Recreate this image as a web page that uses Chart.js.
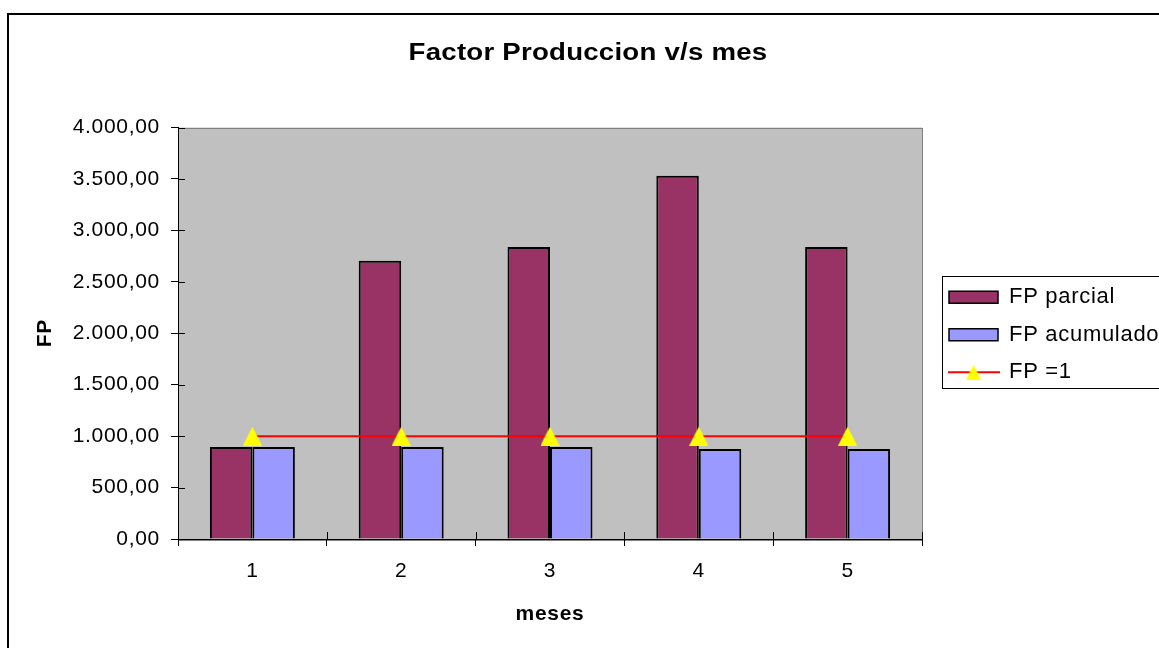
<!DOCTYPE html>
<html>
<head>
<meta charset="utf-8">
<title>Factor Produccion v/s mes</title>
<script src="https://cdn.jsdelivr.net/npm/chart.js@4.4.1/dist/chart.umd.min.js"></script>
<style>
  html, body { margin: 0; padding: 0; background: #fff; overflow: hidden; width: 1159px; height: 648px; }
  canvas { position: absolute; left: 0; top: 0; }
</style>
</head>
<body>
<canvas id="grafico" width="1180" height="665"></canvas>
<script>
// ---- data ----
const meses = ['1', '2', '3', '4', '5'];
const fpParcial = [895, 2705, 2838, 3532, 2838];
const fpAcumulado = [895, 895, 894, 876, 876];
const fpUno = [1000, 1000, 1000, 1000, 1000];
const nombresSeries = ['FP parcial', 'FP acumulado', 'FP =1'];
const yMin = 0;
const yMax = 4000;
const yPaso = 500;
const tituloGrafico = 'Factor Produccion v/s mes';
const tituloEjeX = 'meses';
const tituloEjeY = 'FP';

// ---- styling ----
const FAMILIA = "'Liberation Sans', Arial, Helvetica, sans-serif";
const ESPACIADO_TEXTO = '0.7px';
const ESPACIADO_TITULO = '0.2px';
const ESCALA_TITULO = 1.2;
const DESPLAZAMIENTO_TITULO = 12;
const ANCHO_LEYENDA = 230;

// 4000 -> "4.000,00"
function formatoNumero(v) {
  const partes = Number(v).toFixed(2).split('.');
  return partes[0].replace(/\B(?=(\d{3})+(?!\d))/g, '.') + ',' + partes[1];
}

// yellow triangle marker
function imagenTriangulo(w, h) {
  const c = document.createElement('canvas');
  c.width = w; c.height = h;
  const g = c.getContext('2d');
  g.fillStyle = '#FFFF00';
  g.beginPath();
  g.moveTo(w / 2, 0);
  g.lineTo(w, h);
  g.lineTo(0, h);
  g.closePath();
  g.fill();
  return c;
}

// legend swatch: red line with the triangle marker on it
function imagenLineaLeyenda() {
  const c = document.createElement('canvas');
  c.width = 52; c.height = 16;
  const g = c.getContext('2d');
  g.fillStyle = '#FF0000';
  g.fillRect(0, 7, 52, 2);
  g.drawImage(imagenTriangulo(15, 15), 18.5, 0.5);
  return c;
}

const marcador = imagenTriangulo(19, 19);
const marcadorLeyenda = imagenLineaLeyenda();

const marcoPlugin = {
  id: 'marco',
  beforeLayout(chart) {
    chart.ctx.letterSpacing = ESPACIADO_TEXTO;
    const tb = chart.titleBlock;
    if (tb && !tb.__espaciado) {
      tb.__espaciado = true;
      tb._layers = () => [{
        z: 0,
        draw(area) {
          const g = chart.ctx;
          const cx = (tb.left + tb.right) / 2;
          g.save();
          g.letterSpacing = ESPACIADO_TITULO;
          g.translate(cx + DESPLAZAMIENTO_TITULO, 0);
          g.scale(ESCALA_TITULO, 1);
          g.translate(-cx, 0);
          tb.draw(area);
          g.restore();
        }
      }];
    }
    const lg = chart.legend;
    if (lg && !lg.__fijo) {
      lg.__fijo = true;
      const ajusteOriginal = lg.fit;
      lg.fit = function () {
        ajusteOriginal.call(this);
        this.width = ANCHO_LEYENDA;
      };
    }
  },
  afterLayout(chart) {
    const lg = chart.legend;
    lg.left += 11.5; lg.right += 11.5;
    lg.top += 1.5; lg.bottom += 1.5;
  },
  beforeDraw(chart) {
    const g = chart.ctx;
    const a = chart.chartArea;
    g.save();
    g.letterSpacing = '0px';
    g.fillStyle = '#FFFFFF';
    g.fillRect(0, 0, chart.width, chart.height);
    // outer chart border
    g.strokeStyle = '#000000';
    g.lineWidth = 2;
    g.strokeRect(8, 14, chart.width + 40, chart.height + 40);
    // plot area
    g.fillStyle = '#C0C0C0';
    g.fillRect(a.left, a.top, a.width, a.height);
    g.strokeStyle = '#808080';
    g.lineWidth = 1;
    g.strokeRect(Math.round(a.left) + 0.5, Math.round(a.top) + 0.5, Math.round(a.width), Math.round(a.height));
    // legend frame
    const medio = (a.top + a.bottom) / 2;
    const top = Math.round(medio - 57) + 0.5;
    g.strokeStyle = '#000000';
    g.strokeRect(Math.round(a.right) + 20.5, top, 400, 112);
    g.restore();
    g.letterSpacing = ESPACIADO_TEXTO;
  },
  afterDatasetsDraw(chart) {
    // inner half of the crossing tick marks
    const g = chart.ctx;
    const a = chart.chartArea;
    const xs = chart.scales.x;
    const ys = chart.scales.y;
    g.save();
    g.strokeStyle = '#000000';
    g.lineWidth = 1;
    g.beginPath();
    ys.ticks.forEach(t => {
      const y = Math.round(ys.getPixelForValue(t.value)) + 0.5;
      g.moveTo(a.left, y);
      g.lineTo(a.left + 7, y);
    });
    for (let i = 0; i <= meses.length; i++) {
      const x = Math.round(xs.getPixelForValue(i - 0.5)) + 0.5;
      g.moveTo(x, a.bottom - 7);
      g.lineTo(x, a.bottom);
    }
    g.stroke();
    g.restore();
  }
};

Chart.defaults.font.family = FAMILIA;
Chart.defaults.color = '#000000';

const generarEtiquetas = Chart.defaults.plugins.legend.labels.generateLabels;

new Chart(document.getElementById('grafico'), {
  type: 'bar',
  data: {
    labels: meses,
    datasets: [
      {
        label: nombresSeries[0],
        data: fpParcial,
        backgroundColor: '#993366',
        borderColor: '#000000',
        borderWidth: 2,
        categoryPercentage: 0.571,
        barPercentage: 1,
        order: 1
      },
      {
        label: nombresSeries[1],
        data: fpAcumulado,
        backgroundColor: '#9999FF',
        borderColor: '#000000',
        borderWidth: 2,
        categoryPercentage: 0.571,
        barPercentage: 1,
        order: 1
      },
      {
        type: 'line',
        label: nombresSeries[2],
        data: fpUno,
        borderColor: '#FF0000',
        backgroundColor: '#FFFF00',
        borderWidth: 2,
        tension: 0,
        fill: false,
        pointStyle: marcador,
        pointRadius: 9,
        order: 0
      }
    ]
  },
  options: {
    responsive: false,
    devicePixelRatio: 1,
    animation: false,
    events: [],
    layout: { padding: { left: 0, top: 0, bottom: 0, right: 1180 - 922 - ANCHO_LEYENDA } },
    plugins: {
      tooltip: { enabled: false },
      title: {
        display: true,
        text: tituloGrafico,
        color: '#000000',
        font: { family: FAMILIA, size: 23, weight: 'bold', lineHeight: 1.2 },
        padding: { top: 39.7, bottom: 60.2 }
      },
      legend: {
        display: true,
        position: 'right',
        fullSize: false,
        align: 'center',
        labels: {
          color: '#000000',
          font: { family: FAMILIA, size: 22 },
          padding: 15.5,
          usePointStyle: true,
          pointStyle: 'rect',
          pointStyleWidth: 49,
          boxHeight: 12,
          sort: (a, b) => a.datasetIndex - b.datasetIndex,
          generateLabels(chart) {
            return generarEtiquetas(chart).map(item => {
              if (chart.data.datasets[item.datasetIndex].type === 'line') {
                item.pointStyle = marcadorLeyenda;
              } else {
                item.lineWidth = 1.5;
              }
              return item;
            });
          }
        }
      }
    },
    scales: {
      x: {
        type: 'category',
        offset: true,
        grid: { offset: true, drawOnChartArea: false, drawTicks: true, tickLength: 7, color: '#000000' },
        border: { display: true, color: '#000000', width: 1 },
        ticks: { color: '#000000', font: { family: FAMILIA, size: 21 }, padding: 13, maxRotation: 0, autoSkip: false },
        title: {
          display: true,
          text: tituloEjeX,
          color: '#000000',
          font: { family: FAMILIA, size: 21, weight: 'bold', lineHeight: 1.2 },
          padding: { top: 0, bottom: 38.5 }
        },
        afterFit(scale) { scale.height = 126; }
      },
      y: {
        type: 'linear',
        min: yMin,
        max: yMax,
        grid: { drawOnChartArea: false, drawTicks: true, tickLength: 7, color: '#000000' },
        border: { display: true, color: '#000000', width: 1 },
        ticks: {
          stepSize: yPaso,
          color: '#000000',
          font: { family: FAMILIA, size: 21 },
          padding: 11,
          callback: v => formatoNumero(v)
        },
        title: {
          display: true,
          text: tituloEjeY,
          color: '#000000',
          font: { family: FAMILIA, size: 21, weight: 'bold', lineHeight: 1.2 },
          padding: { top: 33, bottom: 0 }
        },
        afterFit(scale) { scale.width = 178; }
      }
    }
  },
  plugins: [marcoPlugin]
});
</script>
</body>
</html>
